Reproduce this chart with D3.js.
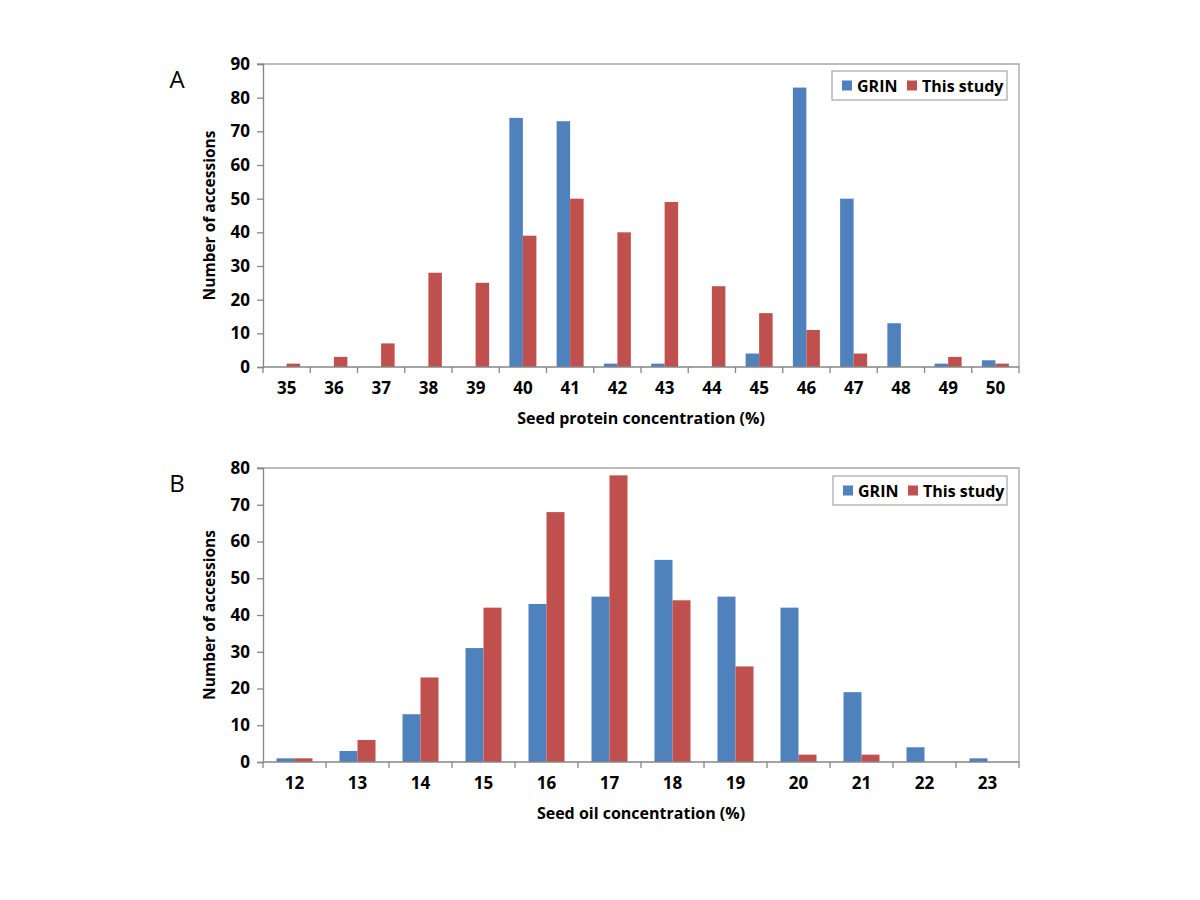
<!DOCTYPE html>
<html><head><meta charset="utf-8">
<script src="https://cdn.jsdelivr.net/npm/d3@7"></script>
<style>body{margin:0;background:#fff}svg{display:block}text{font-family:"Open Sans",sans-serif}</style>
</head><body><svg id="c" width="1200" height="900"></svg>
<script>
const seriesNames = ["GRIN", "This study"];
const proteinCats = ["35","36","37","38","39","40","41","42","43","44","45","46","47","48","49","50"];
const proteinGRIN = [0,0,0,0,0,74,73,1,1,0,4,83,50,13,1,2];
const proteinStudy = [1,3,7,28,25,39,50,40,49,24,16,11,4,0,3,1];
const proteinTicks = [0,10,20,30,40,50,60,70,80,90];
const oilCats = ["12","13","14","15","16","17","18","19","20","21","22","23"];
const oilGRIN = [1,3,13,31,43,45,55,45,42,19,4,1];
const oilStudy = [1,6,23,42,68,78,44,26,2,2,0,0];
const oilTicks = [0,10,20,30,40,50,60,70,80];
const colors = ["#4F81BD", "#C0504D"];

const svg = d3.select("#c");

function panel(opts){
  const {letter, cats, s1, s2, ticks, xTitle, left, right, top, bottom, legend} = opts;
  const g = svg.append("g");
  const x = d3.scaleBand().domain(cats).range([left, right]).paddingInner(0).paddingOuter(0);
  const bw = x.bandwidth()/3.5;
  const y = d3.scaleLinear().domain([0, d3.max(ticks)]).range([bottom, top]);
  g.append("path").attr("d", `M${left-6},${top}H${right}V${bottom}`).attr("fill","none").attr("stroke","#a6a6a6").attr("stroke-width",1.3);
  const data = cats.map((c,i)=>({c, v:[s1[i], s2[i]]}));
  [0,1].forEach(k=>{
    g.selectAll(null).data(data).enter().append("rect")
      .attr("x", d=> x(d.c) + x.bandwidth()/2 - bw + k*bw)
      .attr("width", bw)
      .attr("y", d=> y(d.v[k]))
      .attr("height", d=> bottom - y(d.v[k]))
      .attr("fill", colors[k]);
  });
  const ya = d3.axisLeft(y).tickValues(ticks).tickSize(6).tickPadding(7);
  const yg = g.append("g").attr("transform",`translate(${left},0)`).call(ya);
  yg.select(".domain").attr("stroke","#868686").attr("stroke-width",1.3);
  yg.selectAll(".tick line").attr("stroke","#868686").attr("stroke-width",1.3);
  yg.selectAll("text").attr("font-size",17).attr("font-weight","bold").attr("fill","#000").attr("font-family","'Open Sans',sans-serif");
  const xa = d3.axisBottom(x).tickSize(0).tickPadding(15);
  const xg = g.append("g").attr("transform",`translate(0,${bottom})`).call(xa);
  xg.select(".domain").attr("d", `M${left},0H${right}`).attr("stroke","#868686").attr("stroke-width",1.3);
  xg.selectAll("text").attr("font-size",17).attr("font-weight","bold").attr("fill","#000").attr("font-family","'Open Sans',sans-serif");
  const bounds = cats.map(c=>x(c)).concat([right]);
  g.selectAll(null).data(bounds).enter().append("line")
    .attr("x1",d=>d).attr("x2",d=>d).attr("y1",bottom).attr("y2",bottom+6)
    .attr("stroke","#868686").attr("stroke-width",1.3);
  g.append("text").attr("x",(left+right)/2).attr("y",bottom+57).attr("text-anchor","middle")
    .attr("font-size",16).attr("font-weight","bold").text(xTitle);
  g.append("text").attr("transform",`translate(215,${(top+bottom)/2}) rotate(-90)`).attr("text-anchor","middle")
    .attr("font-size",15.5).attr("font-weight","bold").text("Number of accessions");
  g.append("text").attr("x",177).attr("y",top+24).attr("text-anchor","middle").attr("font-size",24)
    .attr("font-family","'Liberation Sans',Arial,sans-serif").text(letter);
  const [lx, ly, lw, lh] = legend;
  const lg = g.append("g");
  lg.append("rect").attr("x",lx).attr("y",ly).attr("width",lw).attr("height",lh).attr("fill","#fff").attr("stroke","#a6a6a6").attr("stroke-width",1.2);
  const items = [{n:seriesNames[0], x:lx+10},{n:seriesNames[1], x:lx+75}];
  items.forEach((it,i)=>{
    lg.append("rect").attr("x",it.x).attr("y",ly+lh/2-5).attr("width",10).attr("height",10).attr("fill",colors[i]);
    lg.append("text").attr("x",it.x+15).attr("y",ly+lh/2+6).attr("font-size",16).attr("font-weight","bold").text(it.n);
  });
}

panel({letter:"A", cats:proteinCats, s1:proteinGRIN, s2:proteinStudy, ticks:proteinTicks,
  xTitle:"Seed protein concentration (%)", left:263, right:1019, top:64, bottom:367, legend:[832,71,175,29]});
panel({letter:"B", cats:oilCats, s1:oilGRIN, s2:oilStudy, ticks:oilTicks,
  xTitle:"Seed oil concentration (%)", left:263, right:1019, top:468, bottom:762, legend:[833,476,174,29]});
</script></body></html>
